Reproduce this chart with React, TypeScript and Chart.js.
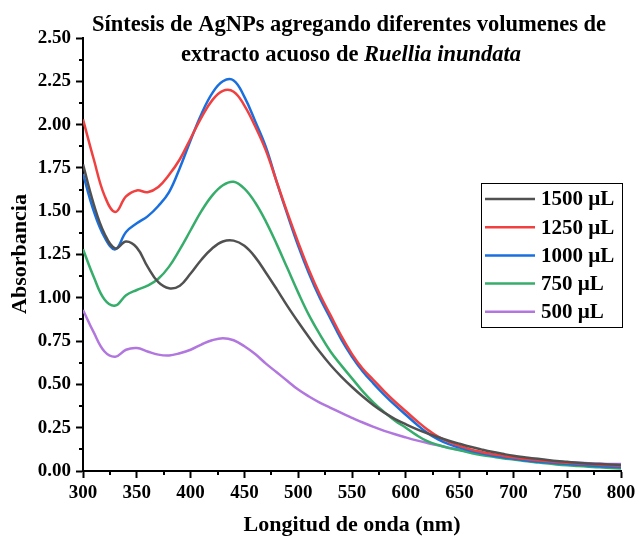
import React, { useEffect, useRef } from 'react';
import { Chart, registerables } from 'chart.js';

Chart.register(...registerables);

// ---- data (wavelength in nm, every 10 nm) ----
const wavelengths = [
  300, 310, 320, 330, 340, 350, 360, 370, 380, 390,
  400, 410, 420, 430, 440, 450, 460, 470, 480, 490,
  500, 510, 520, 530, 540, 550, 560, 570, 580, 590,
  600, 610, 620, 630, 640, 650, 660, 670, 680, 690,
  700, 710, 720, 730, 740, 750, 760, 770, 780, 790, 800,
];

const abs1500 = [
  1.77, 1.54, 1.37, 1.285, 1.325, 1.29, 1.18, 1.09, 1.055, 1.07,
  1.14, 1.22, 1.285, 1.325, 1.33, 1.30, 1.235, 1.145, 1.05, 0.952,
  0.86, 0.772, 0.688, 0.612, 0.545, 0.485, 0.43, 0.38, 0.337, 0.30,
  0.27, 0.242, 0.217, 0.195, 0.175, 0.157, 0.14, 0.125, 0.111, 0.099,
  0.088, 0.08, 0.072, 0.065, 0.058, 0.053, 0.048, 0.044, 0.04, 0.037, 0.035,
];
const abs1250 = [
  2.03, 1.80, 1.59, 1.495, 1.585, 1.62, 1.61, 1.64, 1.71, 1.80,
  1.92, 2.04, 2.14, 2.195, 2.19, 2.11, 1.99, 1.85, 1.67, 1.49,
  1.32, 1.16, 1.02, 0.90, 0.78, 0.675, 0.59, 0.525, 0.46, 0.40,
  0.345, 0.29, 0.24, 0.198, 0.168, 0.145, 0.125, 0.11, 0.098, 0.088,
  0.078, 0.07, 0.063, 0.057, 0.052, 0.048, 0.044, 0.04, 0.036, 0.033, 0.03,
];
const abs1000 = [
  1.715, 1.50, 1.35, 1.28, 1.38, 1.43, 1.47, 1.53, 1.61, 1.75,
  1.91, 2.06, 2.18, 2.25, 2.255, 2.16, 2.02, 1.87, 1.67, 1.48,
  1.30, 1.14, 1.00, 0.88, 0.76, 0.66, 0.575, 0.505, 0.44, 0.38,
  0.325, 0.27, 0.22, 0.183, 0.155, 0.135, 0.117, 0.102, 0.09, 0.08,
  0.07, 0.062, 0.055, 0.05, 0.045, 0.04, 0.036, 0.032, 0.028, 0.025, 0.022,
];
const abs750 = [
  1.28, 1.12, 0.99, 0.955, 1.015, 1.045, 1.07, 1.11, 1.18, 1.28,
  1.39, 1.50, 1.59, 1.65, 1.67, 1.63, 1.55, 1.44, 1.31, 1.17,
  1.03, 0.90, 0.79, 0.69, 0.61, 0.535, 0.46, 0.395, 0.34, 0.29,
  0.25, 0.207, 0.172, 0.15, 0.132, 0.12, 0.105, 0.092, 0.083, 0.074,
  0.066, 0.058, 0.051, 0.044, 0.038, 0.033, 0.029, 0.025, 0.021, 0.018, 0.015,
];
const abs500 = [
  0.93, 0.80, 0.69, 0.66, 0.70, 0.71, 0.69, 0.672, 0.667, 0.68,
  0.70, 0.73, 0.755, 0.767, 0.755, 0.72, 0.675, 0.62, 0.57, 0.52,
  0.47, 0.43, 0.395, 0.365, 0.335, 0.307, 0.28, 0.255, 0.232, 0.212,
  0.194, 0.177, 0.162, 0.148, 0.135, 0.122, 0.11, 0.10, 0.091, 0.083,
  0.075, 0.069, 0.063, 0.058, 0.054, 0.05, 0.047, 0.045, 0.043, 0.041, 0.04,
];

const seriesLabels = ['1500 µL', '1250 µL', '1000 µL', '750 µL', '500 µL'];
const seriesValues = [abs1500, abs1250, abs1000, abs750, abs500];
const seriesColors = ['#515151', '#F14040', '#1A6FDF', '#37AD6B', '#B177DE'];

const xMin = 300;
const xMax = 800;
const xStep = 50;
const yMin = 0;
const yMax = 2.5;
const yStep = 0.25;

const titleLine1 = 'Síntesis de AgNPs agregando diferentes volumenes de';
const titleLine2Plain = 'extracto acuoso de ';
const titleLine2Italic = 'Ruellia inundata';
const xTitle = 'Longitud de onda (nm)';
const yTitle = 'Absorbancia';

const FONT = '"Liberation Serif", "Times New Roman", serif';

const decorPlugin = {
  id: 'decor',
  afterDraw(chart: any) {
    const ctx = chart.ctx as CanvasRenderingContext2D;
    const area = chart.chartArea;
    const xs = chart.scales.x;
    const ys = chart.scales.y;
    ctx.save();
    // minor ticks
    ctx.strokeStyle = '#000';
    ctx.lineWidth = 2;
    ctx.beginPath();
    for (let v = xMin + xStep / 2; v < xMax; v += xStep) {
      const px = Math.round(xs.getPixelForValue(v));
      ctx.moveTo(px, area.bottom);
      ctx.lineTo(px, area.bottom + 4);
    }
    for (let v = yMin + yStep / 2; v < yMax; v += yStep) {
      const py = Math.round(ys.getPixelForValue(v));
      ctx.moveTo(area.left, py);
      ctx.lineTo(area.left - 4, py);
    }
    ctx.stroke();

    // title
    ctx.fillStyle = '#000';
    ctx.textBaseline = 'middle';
    ctx.textAlign = 'center';
    ctx.font = `bold 22.5px ${FONT}`;
    ctx.fillText(titleLine1, 349, 25);
    ctx.textAlign = 'left';
    const w1 = ctx.measureText(titleLine2Plain).width;
    ctx.font = `italic bold 22.5px ${FONT}`;
    const w2 = ctx.measureText(titleLine2Italic).width;
    const start = 351 - (w1 + w2) / 2;
    ctx.font = `bold 22.5px ${FONT}`;
    ctx.fillText(titleLine2Plain, start, 55);
    ctx.font = `italic bold 22.5px ${FONT}`;
    ctx.fillText(titleLine2Italic, start + w1, 55);

    // axis titles
    ctx.font = `bold 22px ${FONT}`;
    ctx.textAlign = 'center';
    ctx.fillText(xTitle, 352, 525);
    ctx.save();
    ctx.translate(20, 254);
    ctx.rotate(-Math.PI / 2);
    ctx.fillText(yTitle, 0, 0);
    ctx.restore();

    // legend
    const lx = 481.5, ly = 183.5, lw = 141, lh = 144;
    ctx.fillStyle = '#fff';
    ctx.fillRect(lx, ly, lw, lh);
    ctx.strokeStyle = '#000';
    ctx.lineWidth = 1;
    ctx.strokeRect(lx, ly, lw, lh);
    ctx.font = `bold 21px ${FONT}`;
    ctx.textAlign = 'left';
    chart.data.datasets.forEach((ds: any, i: number) => {
      const y = 199 + i * 28.2;
      ctx.strokeStyle = ds.borderColor;
      ctx.lineWidth = 2.5;
      ctx.beginPath();
      ctx.moveTo(485, y);
      ctx.lineTo(535, y);
      ctx.stroke();
      ctx.fillStyle = '#000';
      ctx.fillText(ds.label, 541, y + 1);
    });
    ctx.restore();
  },
};

export default function App() {
  const canvasRef = useRef<HTMLCanvasElement | null>(null);

  useEffect(() => {
    document.body.style.margin = '0';
    const canvas = canvasRef.current;
    if (!canvas) return;
    const chart = new Chart(canvas, {
      type: 'line',
      data: {
        datasets: seriesLabels.map((label, i) => ({
          label,
          data: wavelengths.map((w, j) => ({ x: w, y: seriesValues[i][j] })),
          borderColor: seriesColors[i],
          backgroundColor: seriesColors[i],
          borderWidth: 2.5,
          pointRadius: 0,
          tension: 0.4,
          fill: false,
        })),
      },
      options: {
        animation: false,
        responsive: false,
        maintainAspectRatio: false,
        layout: { padding: { top: 38, right: 15, left: 0, bottom: 0 } },
        plugins: {
          legend: { display: false },
          title: { display: false },
          tooltip: { enabled: false },
        },
        scales: {
          x: {
            type: 'linear',
            min: xMin,
            max: xMax,
            afterFit: (s: any) => { s.height = 66; s.paddingLeft = 0; s.paddingRight = 0; },
            ticks: {
              stepSize: xStep,
              color: '#000',
              padding: 4,
              maxRotation: 0,
              font: { family: FONT, weight: 'bold', size: 19 },
            },
            grid: { drawOnChartArea: false, drawTicks: true, tickLength: 7, tickWidth: 2, tickColor: '#000' },
            border: { display: true, color: '#000', width: 2 },
          },
          y: {
            type: 'linear',
            min: yMin,
            max: yMax,
            afterFit: (s: any) => { s.width = 83; s.paddingTop = 0; s.paddingBottom = 0; },
            ticks: {
              stepSize: yStep,
              color: '#000',
              padding: 5,
              callback: (v: any) => Number(v).toFixed(2),
              font: { family: FONT, weight: 'bold', size: 19 },
            },
            grid: { drawOnChartArea: false, drawTicks: true, tickLength: 7, tickWidth: 2, tickColor: '#000' },
            border: { display: true, color: '#000', width: 2 },
          },
        },
      },
      plugins: [decorPlugin],
    });
    return () => chart.destroy();
  }, []);

  return (
    <div style={{ width: 636, height: 537, background: '#fff' }}>
      <canvas ref={canvasRef} width={636} height={537} style={{ display: 'block' }} />
    </div>
  );
}
